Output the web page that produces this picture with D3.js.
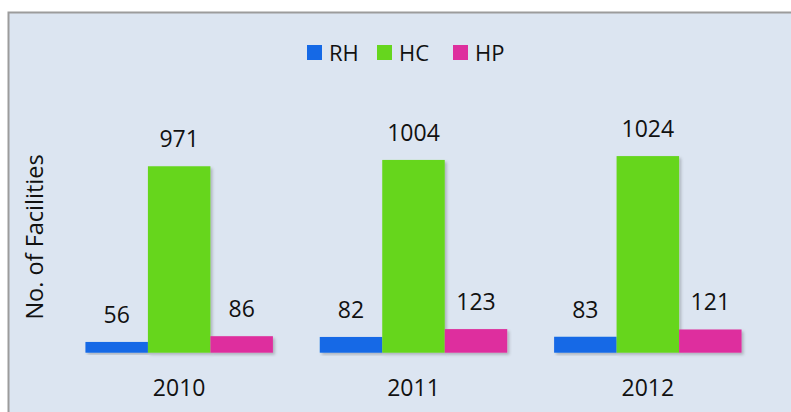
<!DOCTYPE html>
<html>
<head>
<meta charset="utf-8">
<script src="https://cdn.jsdelivr.net/npm/d3@7"></script>
<style>
  body { margin: 0; background: #fff; }
  svg { display: block; font-family: "Open Sans", sans-serif; }
</style>
</head>
<body>
<svg width="791" height="412"></svg>
<script>
// data
const years = ["2010", "2011", "2012"];
const series = ["RH", "HC", "HP"];
const rhValues = [56, 82, 83];
const hcValues = [971, 1004, 1024];
const hpValues = [86, 123, 121];
const colors = ["#1569e6", "#66d61e", "#de2f9e"];

const rows = years.map((y, i) => ({ year: y, RH: rhValues[i], HC: hcValues[i], HP: hpValues[i] }));

const svg = d3.select("svg");

// shadow like the office chart
const defs = svg.append("defs");
defs.append("filter").attr("id", "shadow")
    .attr("x", "-10%").attr("y", "-10%").attr("width", "130%").attr("height", "130%")
    .append("feDropShadow")
    .attr("dx", 2).attr("dy", 2).attr("stdDeviation", 1.5)
    .attr("flood-color", "#000").attr("flood-opacity", 0.22);

// chart area box
svg.append("rect")
    .attr("x", 8.5).attr("y", 12.5)
    .attr("width", 800).attr("height", 420)
    .attr("fill", "#dce5f1")
    .attr("stroke", "#9c9c9c").attr("stroke-width", 2);

const x0 = d3.scaleBand().domain(years).range([62, 765]).padding(0);
const x1 = d3.scaleBand().domain(series).range([0, x0.bandwidth()])
    .paddingInner(0).paddingOuter(0.375);
const y = d3.scaleLinear().domain([0, 1200]).range([352.7, 122.3]);
const color = d3.scaleOrdinal().domain(series).range(colors);

// bars
const groups = svg.append("g")
    .selectAll("g")
    .data(rows)
    .join("g")
    .attr("transform", d => `translate(${x0(d.year)},0)`);

groups.selectAll("rect")
    .data(d => series.map(k => ({ key: k, value: d[k] })))
    .join("rect")
    .attr("x", d => x1(d.key))
    .attr("y", d => y(d.value))
    .attr("width", x1.bandwidth())
    .attr("height", d => y(0) - y(d.value))
    .attr("fill", d => color(d.key))
    .attr("filter", "url(#shadow)");

groups.selectAll("text")
    .data(d => series.map(k => ({ key: k, value: d[k] })))
    .join("text")
    .attr("x", d => x1(d.key) + x1.bandwidth() / 2)
    .attr("y", d => y(d.value) - 19)
    .attr("text-anchor", "middle")
    .attr("font-size", 23)
    .attr("fill", "#111")
    .text(d => d.value);

// category axis
const xAxis = svg.append("g")
    .attr("transform", `translate(0,${y(0)})`)
    .call(d3.axisBottom(x0).tickSize(0).tickPadding(0));
xAxis.select(".domain")
    .attr("stroke", "#8c8c8c").attr("stroke-width", 2)
    .attr("filter", "url(#shadow)");
xAxis.selectAll(".tick text")
    .attr("font-family", "Open Sans, sans-serif")
    .attr("font-size", 23)
    .attr("fill", "#111")
    .attr("dy", null)
    .attr("y", 43);

// y title
svg.append("text")
    .attr("transform", "translate(43,237) rotate(-90)")
    .attr("text-anchor", "middle")
    .attr("font-size", 23.5)
    .attr("fill", "#111")
    .text("No. of Facilities");

// legend
const legendX = [307, 377, 453];
const legend = svg.append("g")
    .selectAll("g")
    .data(series)
    .join("g")
    .attr("transform", (d, i) => `translate(${legendX[i]},45)`);
legend.append("rect")
    .attr("width", 15).attr("height", 15)
    .attr("fill", d => color(d));
legend.append("text")
    .attr("x", 22).attr("y", 15.5)
    .attr("font-size", 22)
    .attr("fill", "#111")
    .text(d => d);
</script>
</body>
</html>
